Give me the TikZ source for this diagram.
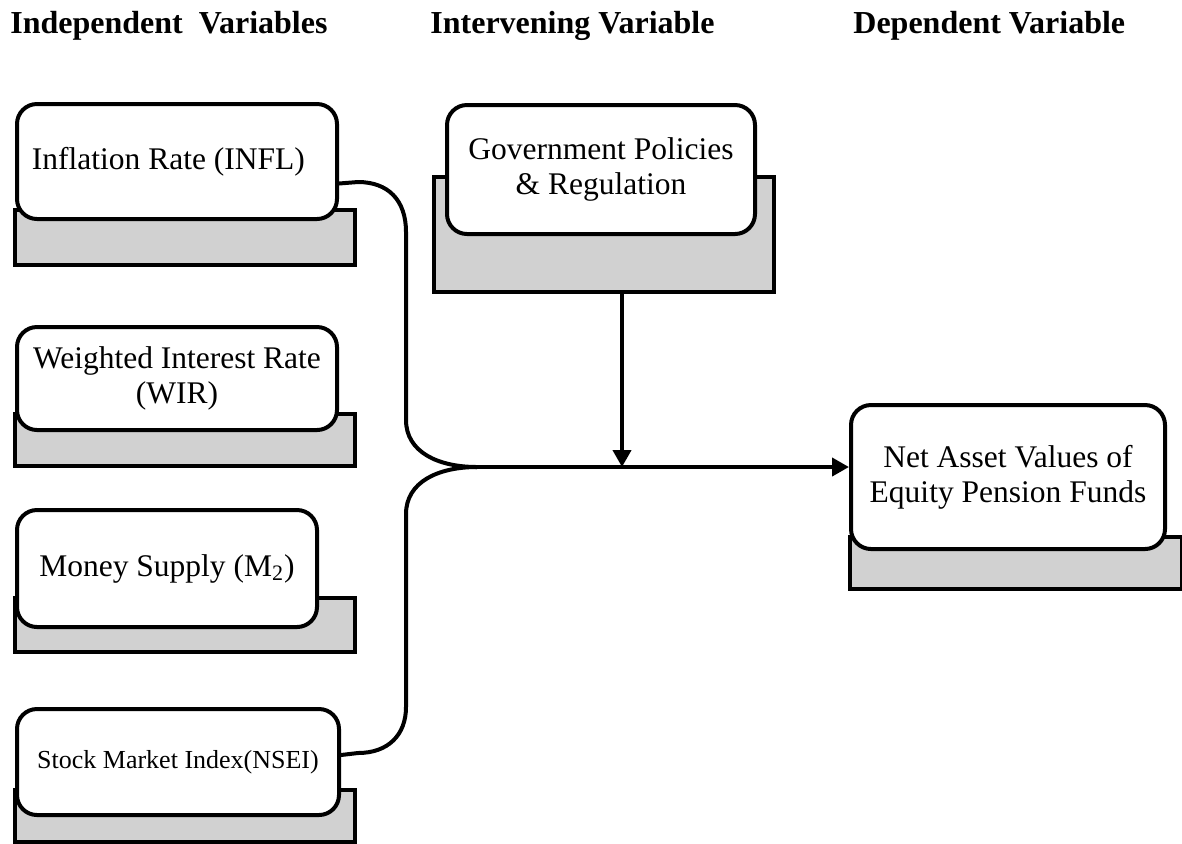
\documentclass[tikz,border=0pt]{standalone}
\usepackage{fontspec}
\setmainfont{Liberation Serif}
\usetikzlibrary{arrows.meta}

\newcommand{\bodyfont}{\fontsize{15.75pt}{17.5pt}\selectfont}

\begin{document}
\begin{tikzpicture}[
    x=0.5pt, y=-0.5pt,
    var-box/.style={draw, line width=2pt, rounded corners=10pt, fill=white, anchor=north west, inner xsep=7.5pt, font=\bodyfont},
    var-base/.style={draw, line width=2pt, fill=black!18, anchor=north west, inner sep=0pt},
    header/.style={anchor=base west, inner sep=0pt, font=\fontsize{16pt}{19pt}\selectfont\bfseries},
    link/.style={line width=2pt},
    tip/.style={-{Triangle[length=8.5pt, width=9pt]}}
]
    \useasboundingbox (0,0) rectangle (1182,843);

    % Column headers
    \node[header] (h-ind) at (10,33)  {Independent\ \ Variables};
    \node[header] (h-int) at (430,33) {Intervening Variable};
    \node[header] (h-dep) at (853,33) {Dependent Variable};

    % Independent variables (grey base first, white box on top)
    \node[var-base, minimum width=170pt, minimum height=27.5pt] (inf-base) at (13,208) {};
    \node[var-box, minimum width=160pt, minimum height=57.5pt, text width=145pt, align=flush left] (inf) at (15,102)
        {Inflation Rate (INFL)};

    \node[var-base, minimum width=170pt, minimum height=26pt] (wir-base) at (13,412) {};
    \node[var-box, minimum width=160pt, minimum height=51.5pt, align=center] (wir) at (15,325)
        {Weighted Interest Rate\\(WIR)};

    \node[var-base, minimum width=170pt, minimum height=27pt] (m2-base) at (13,596) {};
    \node[var-box, minimum width=150pt, minimum height=58.5pt] (m2) at (15,508)
        {Money Supply (M\textsubscript{2})};

    \node[var-base, minimum width=170pt, minimum height=26pt] (nsei-base) at (13,788) {};
    \node[var-box, minimum width=161pt, minimum height=53pt, font=\fontsize{13pt}{15pt}\selectfont] (nsei) at (15,707)
        {Stock Market Index(NSEI)};

    % Intervening variable
    \node[var-base, minimum width=170pt, minimum height=57.5pt] (gov-base) at (432,175) {};
    \node[var-box, minimum width=154pt, minimum height=64.5pt, align=center] (gov) at (445,103)
        {Government Policies\\\& Regulation};

    % Dependent variable
    \node[var-base, minimum width=166pt, minimum height=26pt] (nav-base) at (848,535) {};
    \node[var-box, minimum width=157pt, minimum height=72pt, align=center] (nav) at (849,403)
        {Net Asset Values of\\Equity Pension Funds};

    % Brace joining the outer variables
    \coordinate (join) at (477,467);
    \draw[link] ([yshift=-11pt]inf.east) -- (358,182)
        .. controls (388,182) and (406,200) .. (406,232) -- (406,420)
        .. controls (406,452) and (438,467) .. (join);
    \draw[link] ([yshift=3.5pt]nsei.east) -- (358,753)
        .. controls (388,753) and (406,735) .. (406,707) -- (406,514)
        .. controls (406,482) and (438,467) .. (join);

    % Arrows
    \draw[link, tip] (join) -- (join -| nav.west);
    \draw[link, tip] ([xshift=9pt]gov-base.south) -- ([xshift=9pt]gov-base.south |- join);

\end{tikzpicture}
\end{document}
